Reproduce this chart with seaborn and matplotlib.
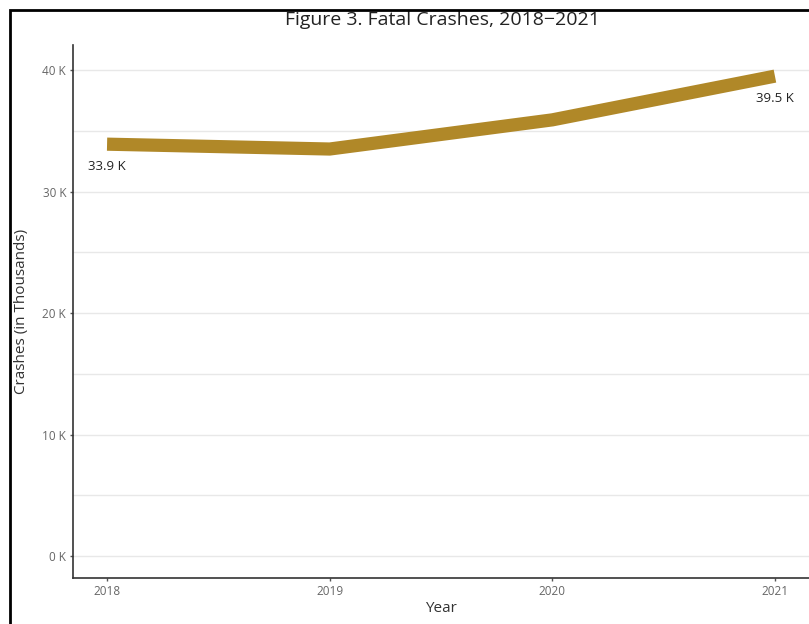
import matplotlib
matplotlib.use("Agg")
import matplotlib.pyplot as plt
import seaborn as sns
import pandas as pd
from matplotlib.patches import Rectangle

years = [2018, 2019, 2020, 2021]
crashes_k = [33.9, 33.5, 35.9, 39.5]
ytick_vals = [0, 10, 20, 30, 40]
ytick_labels = ["0 K", "10 K", "20 K", "30 K", "40 K"]
end_labels = ["33.9 K", "39.5 K"]

df = pd.DataFrame({"Year": years, "Crashes": crashes_k})

sns.set_theme(style="white")
plt.rcParams['font.family'] = ['Open Sans', 'DejaVu Sans']

W, H = 809, 624
fig = plt.figure(figsize=(W / 100, H / 100), dpi=100)
ax = fig.add_axes([73 / W, 1 - 578 / H, (809 - 73) / W, (578 - 45) / H])

for v in [0, 5, 10, 15, 20, 25, 30, 35, 40]:
    ax.axhline(v, color="#e8e8e8", lw=1, zorder=0)

sns.lineplot(data=df, x="Year", y="Crashes", ax=ax, color="#b08828", lw=9.5,
             solid_capstyle="butt", solid_joinstyle="round", zorder=3)

ax.set_xlim(2017.847, 2021.153)
ax.set_ylim(-1.8, 42.06)
ax.set_yticks(ytick_vals)
ax.set_yticklabels(ytick_labels)
ax.set_xticks(years)
ax.set_xticklabels([str(y) for y in years])
ax.tick_params(axis="y", length=2, width=1, color="#555555", pad=3, labelsize=8.5, labelcolor="#666666", left=True)
ax.tick_params(axis="x", length=2, width=1, color="#555555", pad=3, labelsize=8.5, labelcolor="#666666", bottom=True)
ax.set_xlabel("Year", fontsize=11, color="#333333", labelpad=2)
ax.set_ylabel("")

for s in ["top", "right"]:
    ax.spines[s].set_visible(False)
for s in ["left", "bottom"]:
    ax.spines[s].set_color("#333333")
    ax.spines[s].set_linewidth(1.2)

ax.annotate(end_labels[0], (years[0], crashes_k[0]), xytext=(0, -16), textcoords="offset points",
            ha="center", va="center", fontsize=9.5, color="#222222")
ax.annotate(end_labels[1], (years[-1], crashes_k[-1]), xytext=(0, -16), textcoords="offset points",
            ha="center", va="center", fontsize=9.5, color="#222222")

fig.text(442 / W, 1 - 20 / H, "Figure 3. Fatal Crashes, 2018\u22122021", ha="center", va="center",
         fontsize=14, color="#222222")
fig.text(22 / W, 1 - 311 / H, "Crashes (in Thousands)", ha="center", va="center", rotation=90,
         fontsize=11, color="#333333")

fig.patches.append(Rectangle((10 / W, -0.1), 2, 1 - 10 / H + 0.1, transform=fig.transFigure,
                             fill=False, edgecolor="black", lw=2, zorder=10))

fig.savefig("out.png", dpi=100)
